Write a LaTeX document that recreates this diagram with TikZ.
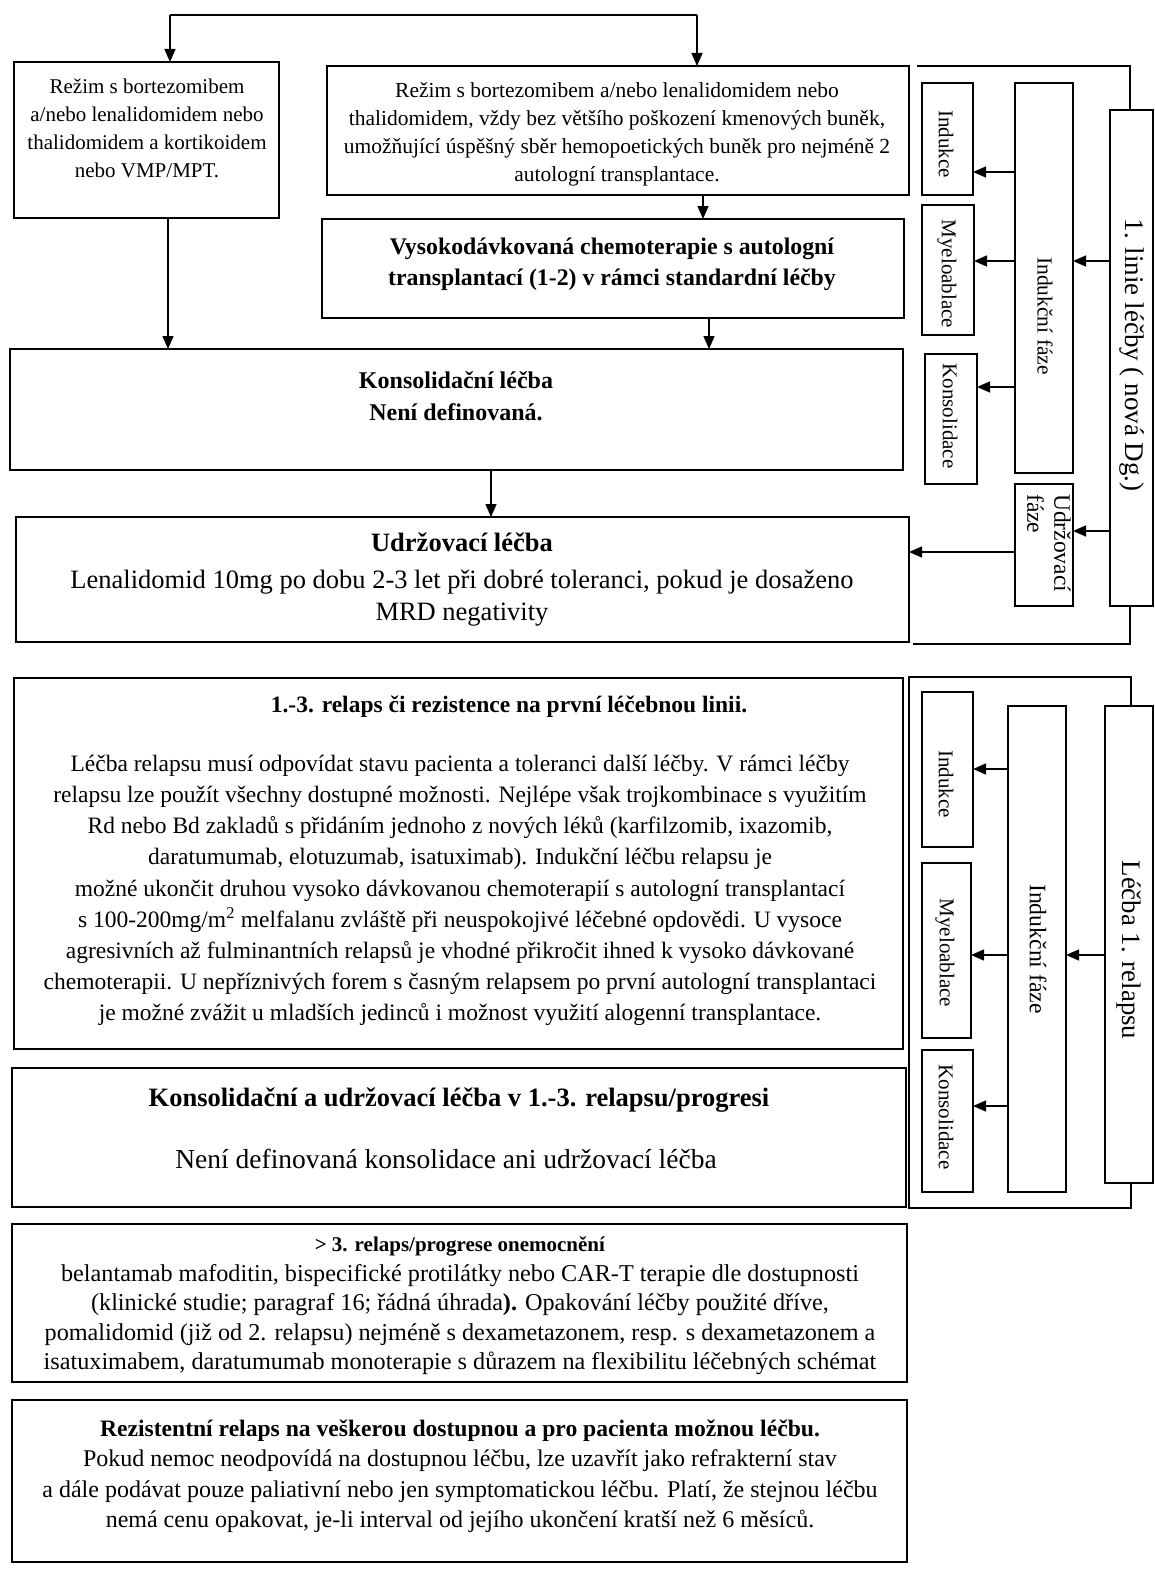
\documentclass[tikz,border=0pt]{standalone}
\usepackage{fontspec}
\setmainfont{Liberation Serif}
\usetikzlibrary{arrows.meta}
\newcommand{\fs}[2]{\fontsize{#1}{#2}\selectfont}
\newcommand{\mybox}[5]{\node[frame, anchor=north west, minimum width=#4pt, minimum height=#5pt] (#1) at (#2,#3) {};}
\begin{document}
\begin{tikzpicture}[x=1pt,y=-1pt,
  frame/.style={draw, line width=1.6pt, fill=white, inner sep=0pt, outer sep=0pt},
  txt/.style={align=center, inner sep=0pt},
  vtxt/.style={align=center, inner sep=0pt, rotate=-90, font=\fs{21}{24}},
  conn/.style={line width=1.4pt, -{Triangle[length=13pt,width=11pt]}},
  plain/.style={line width=1.6pt}]
\useasboundingbox (0,0) rectangle (1154,1573);
\fill[white] (0,0) rectangle (1154,1573);

% ---------- main column, first line ----------
\mybox{L}{14}{62}{265}{156}
\mybox{R}{327}{66}{582}{129}
\mybox{V}{322}{219}{582}{99}
\mybox{K}{10}{349}{893}{121}
\mybox{U}{16}{517}{893}{125}

\node[txt, font=\fs{21}{28}] (Lt) at (147,128) {Režim s bortezomibem\\a/nebo lenalidomidem nebo\\thalidomidem a kortikoidem\\nebo VMP/MPT.};
\node[txt, font=\fs{21.5}{28}] (Rt) at (617,134.5) {Režim s bortezomibem a/nebo lenalidomidem nebo\\thalidomidem, vždy bez většího poškození kmenových buněk,\\umožňující úspěšný sběr hemopoetických buněk pro nejméně 2\\autologní transplantace.};
\node[txt, font=\fs{23.8}{31}\bfseries] (Vt) at (612,264) {Vysokodávkovaná chemoterapie s autologní\\transplantací (1-2) v rámci standardní léčby};
\node[txt, font=\fs{24}{32}\bfseries] (Kt) at (456,396) {Konsolidační léčba\\Není definovaná.};
\node[txt, font=\fs{26.5}{32}] (Ut) at (462,580) {\textbf{Udržovací léčba}\\[5pt]Lenalidomid 10mg po dobu 2-3 let při dobré toleranci, pokud je dosaženo\\MRD negativity};

\coordinate (tl) at (170,15);
\coordinate (tr) at (697,15);
\draw[plain] (tl) -- (tr);
\draw[conn] (tl) -- (tl |- L.north);
\draw[conn] (tr) -- (tr |- R.north);
\draw[conn] (R.south -| 703,0) -- (V.north -| 703,0);
\draw[conn] (L.south -| 168,0) -- (K.north -| 168,0);
\draw[conn] (V.south -| 709,0) -- (K.north -| 709,0);
\draw[conn] (K.south -| 491,0) -- (U.north -| 491,0);

% ---------- right side, first line ----------
\draw[plain] (917,66) -- (1130,66) -- (1130,644) -- (913,644);
\mybox{B1}{1110}{110}{43}{496}
\mybox{IF1}{1015}{83}{58}{390}
\mybox{UF1}{1015}{484}{58}{122}
\mybox{In1}{922}{83}{51}{112}
\mybox{My1}{922}{205}{52}{130}
\mybox{Ko1}{925}{354}{52}{130}

\node[vtxt, font=\fs{27}{30}] (B1t) at (1132,355) {1. linie léčby ( nová Dg.)};
\node[vtxt, font=\fs{21.5}{24}] (IF1t) at (1045,316) {Indukční fáze};
\node[txt, rotate=-90, font=\fs{23.5}{27}, align=left, anchor=north west] (UF1t) at (1071,494) {Udržovací\\fáze};
\node[vtxt] (In1t) at (946,144) {Indukce};
\node[vtxt] (My1t) at (947,274) {Myeloablace};
\node[vtxt] (Ko1t) at (950,416) {Konsolidace};

\draw[conn] (B1.west |- 0,261) -- (IF1.east |- 0,261);
\draw[conn] (IF1.west |- 0,172) -- (In1.east |- 0,172);
\draw[conn] (IF1.west |- 0,261) -- (My1.east |- 0,261);
\draw[conn] (IF1.west |- 0,387) -- (Ko1.east |- 0,387);
\draw[conn] (B1.west |- 0,531) -- (UF1.east |- 0,531);
\draw[conn] (UF1.west |- 0,552) -- (U.east |- 0,552);

% ---------- relapse ----------
\mybox{RL}{14}{678}{889}{371}
\mybox{KU}{12}{1068}{894}{139}

\node[txt, font=\fs{23.5}{28}\bfseries] (RLh) at (509,707) {1.-3. relaps či rezistence na první léčebnou linii.};
\node[txt, font=\fs{23.5}{31.2}] (RLt) at (460,890.5) {Léčba relapsu musí odpovídat stavu pacienta a toleranci další léčby. V rámci léčby\\
relapsu lze použít všechny dostupné možnosti. Nejlépe však trojkombinace s využitím\\
Rd nebo Bd zakladů s přidáním jednoho z nových léků (karfilzomib, ixazomib,\\
daratumumab, elotuzumab, isatuximab). Indukční léčbu relapsu je\\
možné ukončit druhou vysoko dávkovanou chemoterapií s autologní transplantací\\
s 100-200mg/m\textsuperscript{2} melfalanu zvláště při neuspokojivé léčebné opdovědi. U vysoce\\
agresivních až fulminantních relapsů je vhodné přikročit ihned k vysoko dávkované\\
chemoterapii. U nepříznivých forem s časným relapsem po první autologní transplantaci\\
je možné zvážit u mladších jedinců i možnost využití alogenní transplantace.};

\node[txt, font=\fs{26.5}{30}\bfseries] (KUh) at (459,1100) {Konsolidační a udržovací léčba v 1.-3. relapsu/progresi};
\node[txt, font=\fs{27.5}{30}] (KUt) at (446,1159) {Není definovaná konsolidace ani udržovací léčba};

\draw[plain] (909,677) rectangle (1131,1208);
\mybox{B2}{1105}{706}{48}{477}
\mybox{IF2}{1008}{706}{58}{486}
\mybox{In2}{922}{692}{51}{155}
\mybox{My2}{922}{863}{49}{175}
\mybox{Ko2}{922}{1050}{51}{142}

\node[vtxt, font=\fs{26.8}{30}] (B2t) at (1129,950) {Léčba 1. relapsu};
\node[vtxt, font=\fs{23.7}{26}] (IF2t) at (1038,949) {Indukční fáze};
\node[vtxt] (In2t) at (946,784) {Indukce};
\node[vtxt] (My2t) at (945,953) {Myeloablace};
\node[vtxt] (Ko2t) at (946,1117) {Konsolidace};

\draw[conn] (B2.west |- 0,955) -- (IF2.east |- 0,955);
\draw[conn] (IF2.west |- 0,769) -- (In2.east |- 0,769);
\draw[conn] (IF2.west |- 0,955) -- (My2.east |- 0,955);
\draw[conn] (IF2.west |- 0,1106) -- (Ko2.east |- 0,1106);

% ---------- later lines ----------
\mybox{G3}{12}{1224}{895}{158}
\mybox{RZ}{12}{1400}{895}{162}

\node[txt, font=\fs{24.2}{29.5}] (G3t) at (460,1306) {\textbf{\fs{21}{29.5}> 3. relaps/progrese onemocnění}\\
belantamab mafoditin, bispecifické protilátky nebo CAR-T terapie dle dostupnosti\\
(klinické studie; paragraf 16; řádná úhrada\textbf{).} Opakování léčby použité dříve,\\
pomalidomid (již od 2. relapsu) nejméně s dexametazonem, resp. s dexametazonem a\\
isatuximabem, daratumumab monoterapie s důrazem na flexibilitu léčebných schémat};

\node[txt, font=\fs{24}{30.5}] (RZt) at (460,1476) {\textbf{\fs{23.6}{30.5}Rezistentní relaps na veškerou dostupnou a pro pacienta možnou léčbu.}\\
Pokud nemoc neodpovídá na dostupnou léčbu, lze uzavřít jako refrakterní stav\\
a dále podávat pouze paliativní nebo jen symptomatickou léčbu. Platí, že stejnou léčbu\\
nemá cenu opakovat, je-li interval od jejího ukončení kratší než 6 měsíců.};
\end{tikzpicture}
\end{document}
